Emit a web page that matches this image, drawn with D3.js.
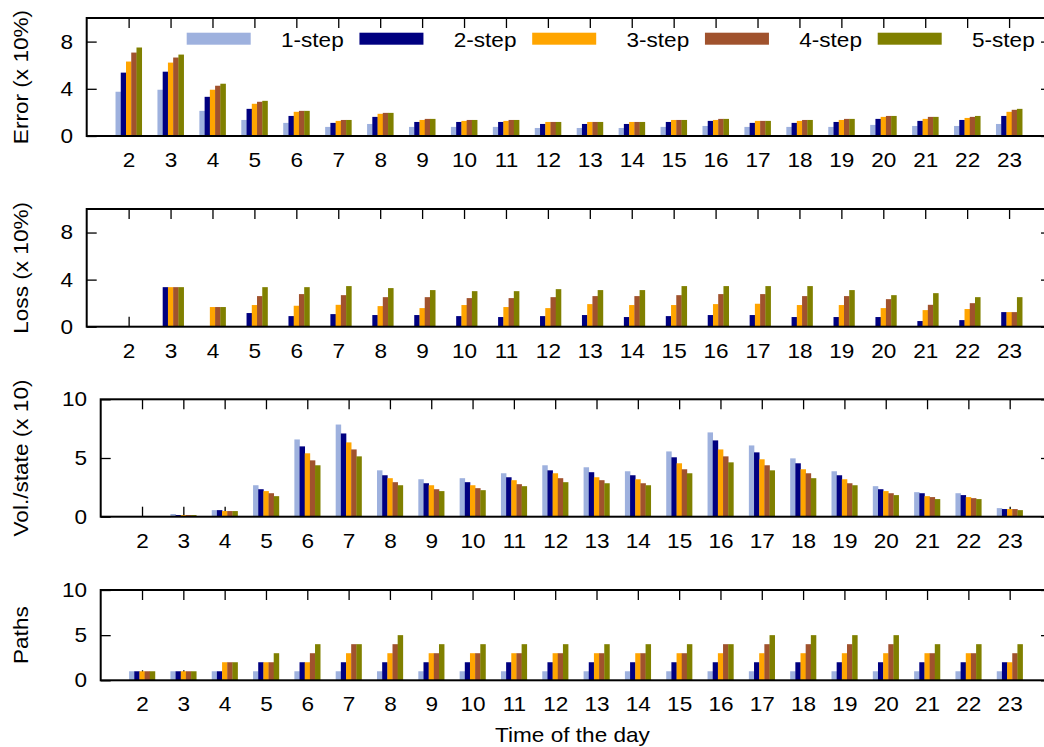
<!DOCTYPE html>
<html>
<head>
<meta charset="utf-8">
<script src="https://cdn.jsdelivr.net/npm/d3@7"></script>
<style>
  html, body { margin: 0; padding: 0; background: #fff; }
  svg { display: block; }
  text { font-family: "Liberation Sans", Arial, Helvetica, sans-serif; fill: #000; }
</style>
</head>
<body>
<svg id="chart" width="1044" height="747"></svg>
<script>
// ---------------- DATA ----------------
const hours = [2,3,4,5,6,7,8,9,10,11,12,13,14,15,16,17,18,19,20,21,22,23];
const seriesNames = ["1-step","2-step","3-step","4-step","5-step"];
const seriesColors = ["#9eb1de","#000080","#ffa500","#a0522d","#808000"];

const errorS1 = [3.75,3.92,2.13,1.36,1.11,0.77,1.02,0.77,0.77,0.77,0.68,0.68,0.68,0.77,0.85,0.77,0.77,0.77,0.94,0.85,0.85,1.02];
const errorS2 = [5.37,5.45,3.32,2.30,1.70,1.11,1.62,1.19,1.19,1.19,1.02,1.02,1.02,1.19,1.28,1.11,1.11,1.19,1.45,1.28,1.36,1.70];
const errorS3 = [6.31,6.22,3.92,2.73,2.05,1.28,1.88,1.36,1.28,1.28,1.19,1.19,1.19,1.36,1.36,1.28,1.28,1.36,1.62,1.45,1.53,2.05];
const errorS4 = [7.07,6.65,4.26,2.90,2.13,1.36,1.96,1.45,1.36,1.36,1.19,1.19,1.19,1.36,1.45,1.28,1.36,1.45,1.70,1.62,1.62,2.22];
const errorS5 = [7.50,6.90,4.43,2.98,2.13,1.36,1.96,1.45,1.36,1.36,1.19,1.19,1.19,1.36,1.45,1.28,1.36,1.45,1.70,1.62,1.70,2.30];

const lossS1 = [0,0,0,0,0,0,0,0,0,0,0,0,0,0,0,0,0,0,0,0,0,0];
const lossS2 = [0,3.36,0,1.16,0.90,1.07,0.99,0.99,0.90,0.82,0.90,0.99,0.82,0.90,0.99,0.99,0.82,0.82,0.82,0.48,0.56,1.24];
const lossS3 = [0,3.36,1.67,1.84,1.78,1.86,1.75,1.58,1.84,1.67,1.58,1.92,1.84,1.84,1.92,1.95,1.84,1.84,1.58,1.41,1.50,1.24];
const lossS4 = [0,3.36,1.67,2.60,2.77,2.68,2.51,2.51,2.43,2.43,2.51,2.60,2.60,2.68,2.77,2.77,2.60,2.60,2.34,1.86,2.00,1.24];
const lossS5 = [0,3.36,1.67,3.36,3.36,3.45,3.28,3.11,3.02,3.02,3.19,3.11,3.11,3.45,3.45,3.45,3.45,3.11,2.68,2.85,2.51,2.51];

const volS1 = [0.03,0.23,0.56,2.68,6.58,7.85,3.95,3.19,3.28,3.70,4.38,4.21,3.87,5.56,7.18,6.07,4.97,3.87,2.60,2.09,2.00,0.73];
const volS2 = [0.05,0.14,0.56,2.34,5.99,7.09,3.53,2.85,2.94,3.36,3.95,3.79,3.53,5.06,6.50,5.48,4.55,3.53,2.34,2.00,1.84,0.65];
const volS3 = [0.05,0.14,0.48,2.18,5.40,6.33,3.28,2.68,2.68,3.11,3.70,3.36,3.19,4.55,5.73,4.89,4.04,3.19,2.18,1.75,1.67,0.65];
const volS4 = [0.05,0.14,0.48,2.00,4.80,5.73,2.94,2.34,2.43,2.77,3.28,3.11,2.85,4.04,5.14,4.38,3.70,2.85,2.00,1.67,1.58,0.65];
const volS5 = [0.05,0.14,0.48,1.75,4.38,5.14,2.68,2.18,2.26,2.60,2.94,2.85,2.68,3.70,4.63,3.95,3.28,2.68,1.84,1.50,1.50,0.56];

const pathsS1 = [1,1,1,1,1,1,1,1,1,1,1,1,1,1,1,1,1,1,1,1,1,1];
const pathsS2 = [1,1,1,2,2,2,2,2,2,2,2,2,2,2,2,2,2,2,2,2,2,2];
const pathsS3 = [1,1,2,2,2,3,3,3,3,3,3,3,3,3,3,3,3,3,3,3,3,2];
const pathsS4 = [1,1,2,2,3,4,4,3,3,3,3,3,3,3,4,4,4,4,4,3,3,3];
const pathsS5 = [1,1,2,3,4,4,5,4,4,4,4,4,4,4,4,5,5,5,5,4,4,4];

const errorTicks = [0,4,8];
const lossTicks = [0,4,8];
const volTicks = [0,5,10];
const pathsTicks = [0,5,10];
const yTitles = ["Error (x 10%)","Loss (x 10%)","Vol./state (x 10)","Paths"];
const xTitle = "Time of the day";

// ---------------- LAYOUT ----------------
const svg = d3.select("#chart");
const FONT = 20;
const STRETCH = "scale(1.13,1)";
const RIGHT = 1051;

const panels = [
  { series: [errorS1,errorS2,errorS3,errorS4,errorS5], ticks: errorTicks, title: yTitles[0], left: 86.7, top: 18,    bottom: 136,   legend: true },
  { series: [lossS1,lossS2,lossS3,lossS4,lossS5],      ticks: lossTicks,  title: yTitles[1], left: 86.7, top: 209,   bottom: 326.7 },
  { series: [volS1,volS2,volS3,volS4,volS5],           ticks: volTicks,   title: yTitles[2], left: 100.7, top: 399.3, bottom: 516.7 },
  { series: [pathsS1,pathsS2,pathsS3,pathsS4,pathsS5], ticks: pathsTicks, title: yTitles[3], left: 100.7, top: 590,   bottom: 680.3 }
];

function styleAxis(g, hideLabels) {
  g.select(".domain").remove();
  g.selectAll(".tick line").attr("stroke", "#000").attr("stroke-width", 1.3);
  g.selectAll(".tick text")
    .attr("font-size", FONT)
    .attr("font-family", "Liberation Sans, Arial, sans-serif")
    .attr("fill", "#000")
    .attr("transform", STRETCH);
  if (hideLabels) g.selectAll(".tick text").remove();
}

panels.forEach((p, pi) => {
  const x = d3.scaleLinear().domain([1, 24]).range([p.left, RIGHT]);
  const y = d3.scaleLinear().domain([0, 10]).range([p.bottom, p.top]);
  const step = x(2) - x(1);
  const bw = step / 8;

  const g = svg.append("g");

  // axes (ticks inward)
  g.append("g").attr("transform", `translate(0,${p.bottom})`)
    .call(d3.axisBottom(x).tickValues(hours).tickFormat(d3.format("d")).tickSize(-10).tickPadding(17))
    .call(a => styleAxis(a, false));
  g.append("g").attr("transform", `translate(0,${p.top})`)
    .call(d3.axisTop(x).tickValues(hours).tickSize(-10))
    .call(a => styleAxis(a, true));
  g.append("g").attr("transform", `translate(${p.left},0)`)
    .call(d3.axisLeft(y).tickValues(p.ticks).tickFormat(d3.format("d")).tickSize(-10).tickPadding(12))
    .call(a => styleAxis(a, false));
  g.append("g").attr("transform", `translate(${RIGHT},0)`)
    .call(d3.axisRight(y).tickValues(p.ticks).tickSize(-10))
    .call(a => styleAxis(a, true));

  // bars
  p.series.forEach((vals, si) => {
    g.append("g").selectAll("rect")
      .data(hours.map((h, i) => ({ h, v: vals[i] })).filter(d => d.v > 0))
      .join("rect")
      .attr("x", d => x(d.h) + (si - 2.5) * bw)
      .attr("width", bw + 0.3)
      .attr("y", d => y(d.v))
      .attr("height", d => y(0) - y(d.v))
      .attr("fill", seriesColors[si]);
  });

  // frame
  g.append("rect")
    .attr("x", p.left).attr("y", p.top)
    .attr("width", RIGHT - p.left).attr("height", p.bottom - p.top)
    .attr("fill", "none").attr("stroke", "#000").attr("stroke-width", 2);

  // y title
  const cy = (p.top + p.bottom) / 2;
  g.append("text")
    .attr("transform", `translate(21,${cy}) rotate(-90) ${STRETCH}`)
    .attr("text-anchor", "middle")
    .attr("dominant-baseline", "central")
    .attr("font-size", FONT)
    .text(p.title);

  // legend
  if (p.legend) {
    const lg = g.append("g");
    seriesNames.forEach((name, si) => {
      const x0 = 186.7 + si * 172.75;
      lg.append("rect").attr("x", x0).attr("y", 32.7).attr("width", 64).attr("height", 12)
        .attr("fill", seriesColors[si]);
      lg.append("text")
        .attr("transform", `translate(${x0 + 157},46.5) ${STRETCH}`)
        .attr("text-anchor", "end")
        .attr("font-size", FONT)
        .text(name);
    });
  }
});

// x title
svg.append("text")
  .attr("transform", `translate(572.5,741.5) ${STRETCH}`)
  .attr("text-anchor", "middle")
  .attr("font-size", FONT)
  .text(xTitle);
</script>
</body>
</html>
